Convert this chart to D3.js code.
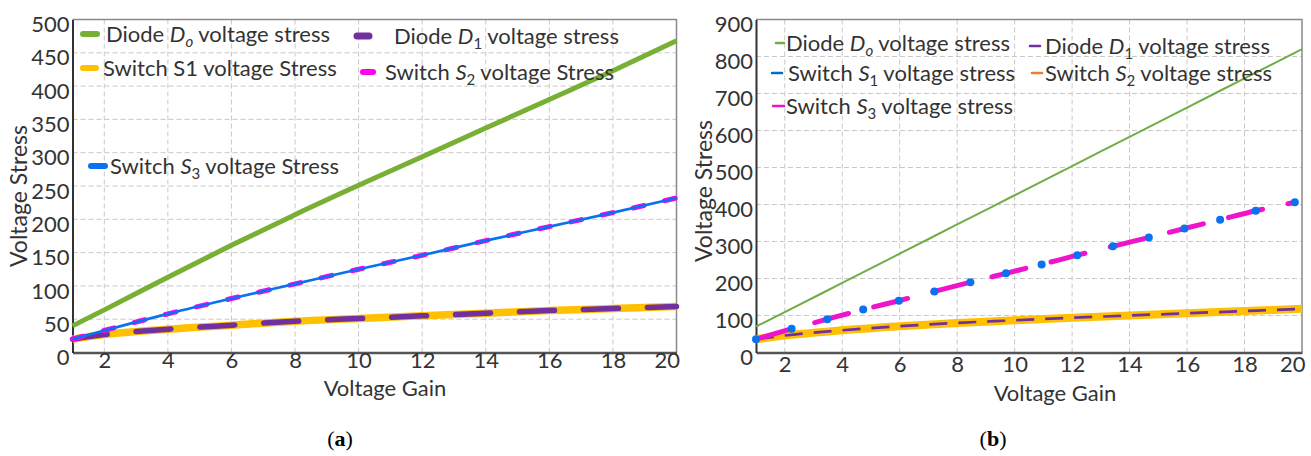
<!DOCTYPE html>
<html>
<head>
<meta charset="utf-8">
<script src="https://cdn.jsdelivr.net/npm/d3@7"></script>
<style>
    body { margin: 0; background: #fff; }
    text { font-family: "Lato", sans-serif; fill: #333; }
    .cap { font-family: "Liberation Serif", serif; fill: #000; }
</style>
</head>
<body>
<svg id="chart"></svg>
<script>
// size
const width = 1311;
const height = 456;

// shared x values (voltage gain)
const gain = [1, 2, 4, 6, 8, 10, 12, 14, 16, 18, 20];

// panel (a) values
const aDiodeDo  = [40, 64, 113, 161, 207, 251, 294, 337, 380, 423, 468];
const aDiodeD1  = [20, 27, 35, 41, 47, 51, 55, 59, 63, 66, 69];
const aSwitchS1 = [20, 27, 35, 41, 47, 51, 55, 59, 63, 66, 69];
const aSwitchS2 = [20, 33, 58, 81, 103, 125, 146, 168, 189, 210, 232];
const aSwitchS3 = [20, 33, 58, 81, 103, 125, 146, 168, 189, 210, 232];

// panel (b) values
const bDiodeDo  = [70, 109, 188, 267, 346, 425, 504, 583, 662, 741, 820];
const bDiodeD1  = [36, 46, 60, 71, 80, 87, 94, 100, 106, 112, 118];
const bBand     = [36, 46, 60, 71, 80, 87, 94, 100, 106, 112, 118];
// switch curves of (b) are sampled where the markers sit
const bGainS    = [1, 2.24, 3.48, 4.73, 5.97, 7.21, 8.46, 9.7, 10.94, 12.18, 13.42, 14.67, 15.91, 17.15, 18.39, 19.75];
const bSwitchS1 = [36, 64, 90, 116, 140, 165, 190, 214, 238, 263, 287, 311, 335, 359, 383, 406];
const bSwitchS2 = [36, 64, 90, 116, 140, 165, 190, 214, 238, 263, 287, 311, 335, 359, 383, 406];
const bSwitchS3 = [36, 64, 90, 116, 140, 165, 190, 214, 238, 263, 287, 311, 335, 359, 383, 406];

// tick labels
const xTicks  = [2, 4, 6, 8, 10, 12, 14, 16, 18, 20];
const aYTicks = [0, 50, 100, 150, 200, 250, 300, 350, 400, 450, 500];
const bYTicks = [0, 100, 200, 300, 400, 500, 600, 700, 800, 900];

const svg = d3.select("#chart")
    .attr("width", width)
    .attr("height", height);

// draw one panel frame with grid and axes
function panel(box, yMax, yTicks, xPad) {
    const x = d3.scaleLinear().domain([1, 20]).range([box.left, box.right]);
    const y = d3.scaleLinear().domain([0, yMax]).range([box.bottom, box.top]);
    const g = svg.append("g");

    // grid
    g.append("g").selectAll("line").data(xTicks.slice(0, -1)).enter().append("line")
        .attr("x1", d => x(d)).attr("x2", d => x(d))
        .attr("y1", box.top).attr("y2", box.bottom)
        .attr("stroke", "#c8c8c8").attr("stroke-dasharray", "5,3");
    g.append("g").selectAll("line").data(yTicks.slice(1, -1)).enter().append("line")
        .attr("x1", box.left).attr("x2", box.right)
        .attr("y1", d => y(d)).attr("y2", d => y(d))
        .attr("stroke", "#c8c8c8").attr("stroke-dasharray", "5,3");

    // frame (top and right edges)
    g.append("path")
        .attr("d", `M${box.left},${box.top}H${box.right}V${box.bottom}`)
        .attr("fill", "none").attr("stroke", "#8a8a8a").attr("stroke-width", 1.5);

    // axes
    const xAxis = d3.axisBottom(x).tickValues(xTicks).tickSize(0).tickPadding(xPad);
    const gx = g.append("g")
        .attr("transform", `translate(0,${box.bottom})`)
        .call(xAxis);
    gx.select(".domain").attr("stroke", "#555").attr("stroke-width", 2.5);
    gx.selectAll("text").style("font-size", "22px").attr("fill", "#333")
        .attr("text-anchor", d => d === 20 ? "end" : "middle")
        .attr("dx", d => d === 20 ? 3 : 0);

    const yAxis = d3.axisLeft(y).tickValues(yTicks).tickSize(0).tickPadding(3);
    const gy = g.append("g")
        .attr("transform", `translate(${box.left},0)`)
        .call(yAxis);
    gy.select(".domain").attr("stroke", "#333").attr("stroke-width", 2);
    gy.selectAll("text").style("font-size", "22px").attr("fill", "#333")
        .attr("dy", "0.55em");

    return { x, y, g };
}

function drawLine(p, xs, ys, color, w, dash, cap) {
    const line = d3.line().x((d, i) => p.x(xs[i])).y(d => p.y(d)).curve(d3.curveMonotoneX);
    p.g.append("path")
        .datum(ys)
        .attr("d", line)
        .attr("fill", "none")
        .attr("stroke", color)
        .attr("stroke-width", w)
        .attr("stroke-dasharray", dash || null)
        .attr("stroke-linecap", cap || "butt");
}

// legend entry: swatch, then text with italic symbol and subscript
function legendItem(g, sx, sLen, sw, tx, ty, color, pre, sym, sub, post) {
    g.append("line")
        .attr("x1", sx).attr("x2", sx + sLen)
        .attr("y1", ty - 8).attr("y2", ty - 8)
        .attr("stroke", color).attr("stroke-width", sw).attr("stroke-linecap", "round");
    const t = g.append("text")
        .attr("x", tx).attr("y", ty)
        .style("font-size", "22px").attr("fill", "#111");
    t.append("tspan").text(pre);
    if (sym) {
        t.append("tspan").style("font-style", "italic").text(sym);
        t.append("tspan").attr("dy", 5).style("font-size", "15px")
            .style("font-style", sub === "o" ? "italic" : "normal").text(sub);
        t.append("tspan").attr("dy", -5).text(post);
    }
}

// ---------- panel (a)
const pa = panel({ left: 72.5, right: 676.5, top: 19.5, bottom: 352.5 }, 500, aYTicks, 0);
drawLine(pa, gain, aDiodeDo, "#77b035", 5, null, "butt");
drawLine(pa, gain, aSwitchS1, "#ffc000", 7.5, null, "butt");
drawLine(pa, gain, aDiodeD1, "#7030a0", 5.5, "35,29", "round");
drawLine(pa, gain, aSwitchS2, "#ff00f0", 5, "11,21", "round");
drawLine(pa, gain, aSwitchS3, "#0a72f0", 2.7, null, "butt");

const la = svg.append("g");
legendItem(la, 83, 14, 6, 106, 42, "#77b035", "Diode ", "D", "o", " voltage stress");
legendItem(la, 357, 12, 7, 394, 44, "#7030a0", "Diode ", "D", "1", " voltage stress");
legendItem(la, 83, 13, 6, 103, 76, "#ffc000", "Switch S1 voltage Stress");
legendItem(la, 363, 10, 6, 385, 80, "#ff00f0", "Switch ", "S", "2", " voltage Stress");
legendItem(la, 91, 14, 6, 110, 174, "#0a72f0", "Switch ", "S", "3", " voltage Stress");

// ---------- panel (b)
const pb = panel({ left: 756, right: 1302, top: 19.5, bottom: 352.5 }, 900, bYTicks, 4);
drawLine(pb, gain, bDiodeDo, "#70ad47", 2, null, "butt");
drawLine(pb, gain, bBand, "#ffc000", 8, null, "butt");
drawLine(pb, gain, bDiodeD1, "#7030a0", 2.7, "18,11", "butt");
drawLine(pb, bGainS, bSwitchS2, "#ed7d31", 3, "35,26", "round");
drawLine(pb, bGainS, bSwitchS3, "#ee14cc", 5, "35,26", "round");
pb.g.append("g").selectAll("circle").data(bSwitchS1).enter().append("circle")
    .attr("cx", (d, i) => pb.x(bGainS[i]))
    .attr("cy", d => pb.y(d))
    .attr("r", 4)
    .attr("fill", "#0a72f0");

const lb = svg.append("g");
legendItem(lb, 776, 8, 2.5, 786, 51, "#70ad47", "Diode ", "D", "o", " voltage stress");
legendItem(lb, 1030, 10, 2.5, 1045, 54, "#7030a0", "Diode ", "D", "1", " voltage stress");
legendItem(lb, 772, 10, 2.5, 788, 81, "#0070c0", "Switch ", "S", "1", " voltage stress");
legendItem(lb, 1032, 10, 2.5, 1045, 81, "#ed7d31", "Switch ", "S", "2", " voltage stress");
legendItem(lb, 773, 11, 2.5, 786, 114, "#ee14cc", "Switch ", "S", "3", " voltage stress");

// ---------- axis titles and captions
svg.append("text")
    .attr("text-anchor", "middle")
    .attr("transform", `translate(27, 196) rotate(-90)`)
    .style("font-size", "23px").attr("fill", "#111")
    .text("Voltage Stress");
svg.append("text")
    .attr("text-anchor", "middle")
    .attr("transform", `translate(712, 191) rotate(-90)`)
    .style("font-size", "23px").attr("fill", "#111")
    .text("Voltage Stress");
svg.append("text")
    .attr("text-anchor", "middle").attr("x", 385).attr("y", 396)
    .style("font-size", "22px").attr("fill", "#111")
    .text("Voltage Gain");
svg.append("text")
    .attr("text-anchor", "middle").attr("x", 1055).attr("y", 401)
    .style("font-size", "22px").attr("fill", "#111")
    .text("Voltage Gain");

[{ x: 340, t: "a" }, { x: 993, t: "b" }].forEach(c => {
    const t = svg.append("text").attr("class", "cap")
        .attr("text-anchor", "middle").attr("x", c.x).attr("y", 446)
        .style("font-size", "22px");
    t.append("tspan").text("(");
    t.append("tspan").style("font-weight", "bold").text(c.t);
    t.append("tspan").text(")");
});
</script>
</body>
</html>
